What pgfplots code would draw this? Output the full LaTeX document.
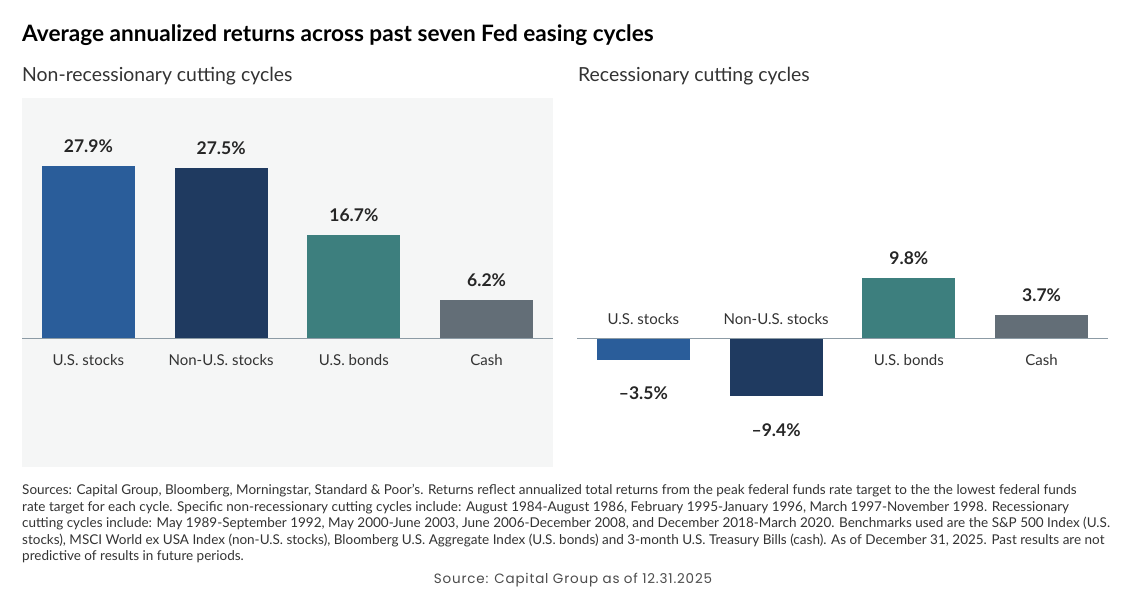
\documentclass[border=0pt]{standalone}
\usepackage{fontspec}
\setmainfont{Lato}
\newfontfamily\srcfont[LetterSpace=6]{Poppins}
\usepackage{pgfplots}
\pgfplotsset{compat=1.18}

\definecolor{usstk}{HTML}{2A5D9A}
\definecolor{nonus}{HTML}{1F3A60}
\definecolor{bonds}{HTML}{3D7F7E}
\definecolor{cash}{HTML}{636E77}
\definecolor{panelbg}{HTML}{F5F6F6}
\definecolor{baseln}{HTML}{8C9BA5}
\definecolor{txt}{HTML}{333333}

\pgfplotsset{
  fedpanel/.style={
    width=531pt, height=369pt, scale only axis,
    xmin=-0.5, xmax=3.5, ymin=-20.9, ymax=38.9,
    hide axis, clip=false,
    ybar, bar width=0.7,
    point meta=explicit symbolic,
    nodes near coords,
  },
  up/.style={draw=none, fill=#1, bar shift=0pt,
    every node near coord/.style={font=\bfseries\fontsize{17.5}{20}\selectfont,
      text=black!85, inner sep=0pt, anchor=base, yshift=13.5pt}},
  down/.style={draw=none, fill=#1, bar shift=0pt,
    every node near coord/.style={font=\bfseries\fontsize{17.5}{20}\selectfont,
      text=black!85, inner sep=0pt, anchor=base, yshift=-40pt}},
}
\tikzset{catlab/.style={font=\fontsize{15}{17}\selectfont, text=txt, inner sep=0pt, anchor=base}}

\begin{document}
\begin{tikzpicture}
\path[use as bounding box, fill=white] (0,0) rectangle (1136pt,-596pt);

% titles
\node[anchor=base west, inner sep=0pt, font=\bfseries\fontsize{22.6}{26}\selectfont]
  at (22pt,-42pt) {Average annualized returns across past seven Fed easing cycles};
\node[anchor=base west, inner sep=0pt, font=\fontsize{19.4}{22}\selectfont, text=txt]
  at (22pt,-82pt) {Non-recessionary cutting cycles};
\node[anchor=base west, inner sep=0pt, font=\fontsize{19.4}{22}\selectfont, text=txt]
  at (578pt,-82pt) {Recessionary cutting cycles};

% panel background
\fill[panelbg] (22pt,-98pt) rectangle (553pt,-467pt);

% non-recessionary
\begin{axis}[fedpanel, at={(22pt,-467pt)}, anchor=south west]
  \addplot[up=usstk] coordinates {(0,27.9) [27.9\%]};
  \addplot[up=nonus] coordinates {(1,27.5) [27.5\%]};
  \addplot[up=bonds] coordinates {(2,16.7) [16.7\%]};
  \addplot[up=cash]  coordinates {(3,6.2) [6.2\%]};
  \draw[baseln, line width=1pt] (axis cs:-0.5,0) -- (axis cs:3.5,0);
  \node[catlab] at (axis cs:0,0) [yshift=-27pt] {U.S. stocks};
  \node[catlab] at (axis cs:1,0) [yshift=-27pt] {Non-U.S. stocks};
  \node[catlab] at (axis cs:2,0) [yshift=-27pt] {U.S. bonds};
  \node[catlab] at (axis cs:3,0) [yshift=-27pt] {Cash};
\end{axis}

% recessionary
\begin{axis}[fedpanel, at={(577pt,-467pt)}, anchor=south west]
  \addplot[down=usstk] coordinates {(0,-3.5) [--3.5\%]};
  \addplot[down=nonus] coordinates {(1,-9.4) [--9.4\%]};
  \addplot[up=bonds]   coordinates {(2,9.8) [9.8\%]};
  \addplot[up=cash]    coordinates {(3,3.7) [3.7\%]};
  \draw[baseln, line width=1pt] (axis cs:-0.5,0) -- (axis cs:3.5,0);
  \node[catlab] at (axis cs:0,0) [yshift=14pt] {U.S. stocks};
  \node[catlab] at (axis cs:1,0) [yshift=14pt] {Non-U.S. stocks};
  \node[catlab] at (axis cs:2,0) [yshift=-27pt] {U.S. bonds};
  \node[catlab] at (axis cs:3,0) [yshift=-27pt] {Cash};
\end{axis}

% footnote
\begin{scope}[every node/.style={anchor=base west, inner sep=0pt, text=txt,
    font=\fontsize{13.5}{15}\selectfont}]
  \node at (22pt,-494pt) {Sources: Capital Group, Bloomberg, Morningstar, Standard \& Poor’s. Returns reflect annualized total returns from the peak federal funds rate target to the the lowest federal funds};
  \node at (22pt,-511pt) {rate target for each cycle. Specific non-recessionary cutting cycles include: August 1984-August 1986, February 1995-January 1996, March 1997-November 1998. Recessionary};
  \node at (22pt,-527.5pt) {cutting cycles include: May 1989-September 1992, May 2000-June 2003, June 2006-December 2008, and December 2018-March 2020. Benchmarks used are the S\&P 500 Index (U.S.};
  \node at (22pt,-544pt) {stocks), MSCI World ex USA Index (non-U.S. stocks), Bloomberg U.S. Aggregate Index (U.S. bonds) and 3-month U.S. Treasury Bills (cash). As of December 31, 2025. Past results are not};
  \node at (22pt,-560.5pt) {predictive of results in future periods.};
\end{scope}
\node[anchor=base, inner sep=0pt, text=black!70, font=\srcfont\fontsize{13.5}{16}\selectfont]
  at (573pt,-583pt) {Source: Capital Group as of 12.31.2025};
\end{tikzpicture}
\end{document}
